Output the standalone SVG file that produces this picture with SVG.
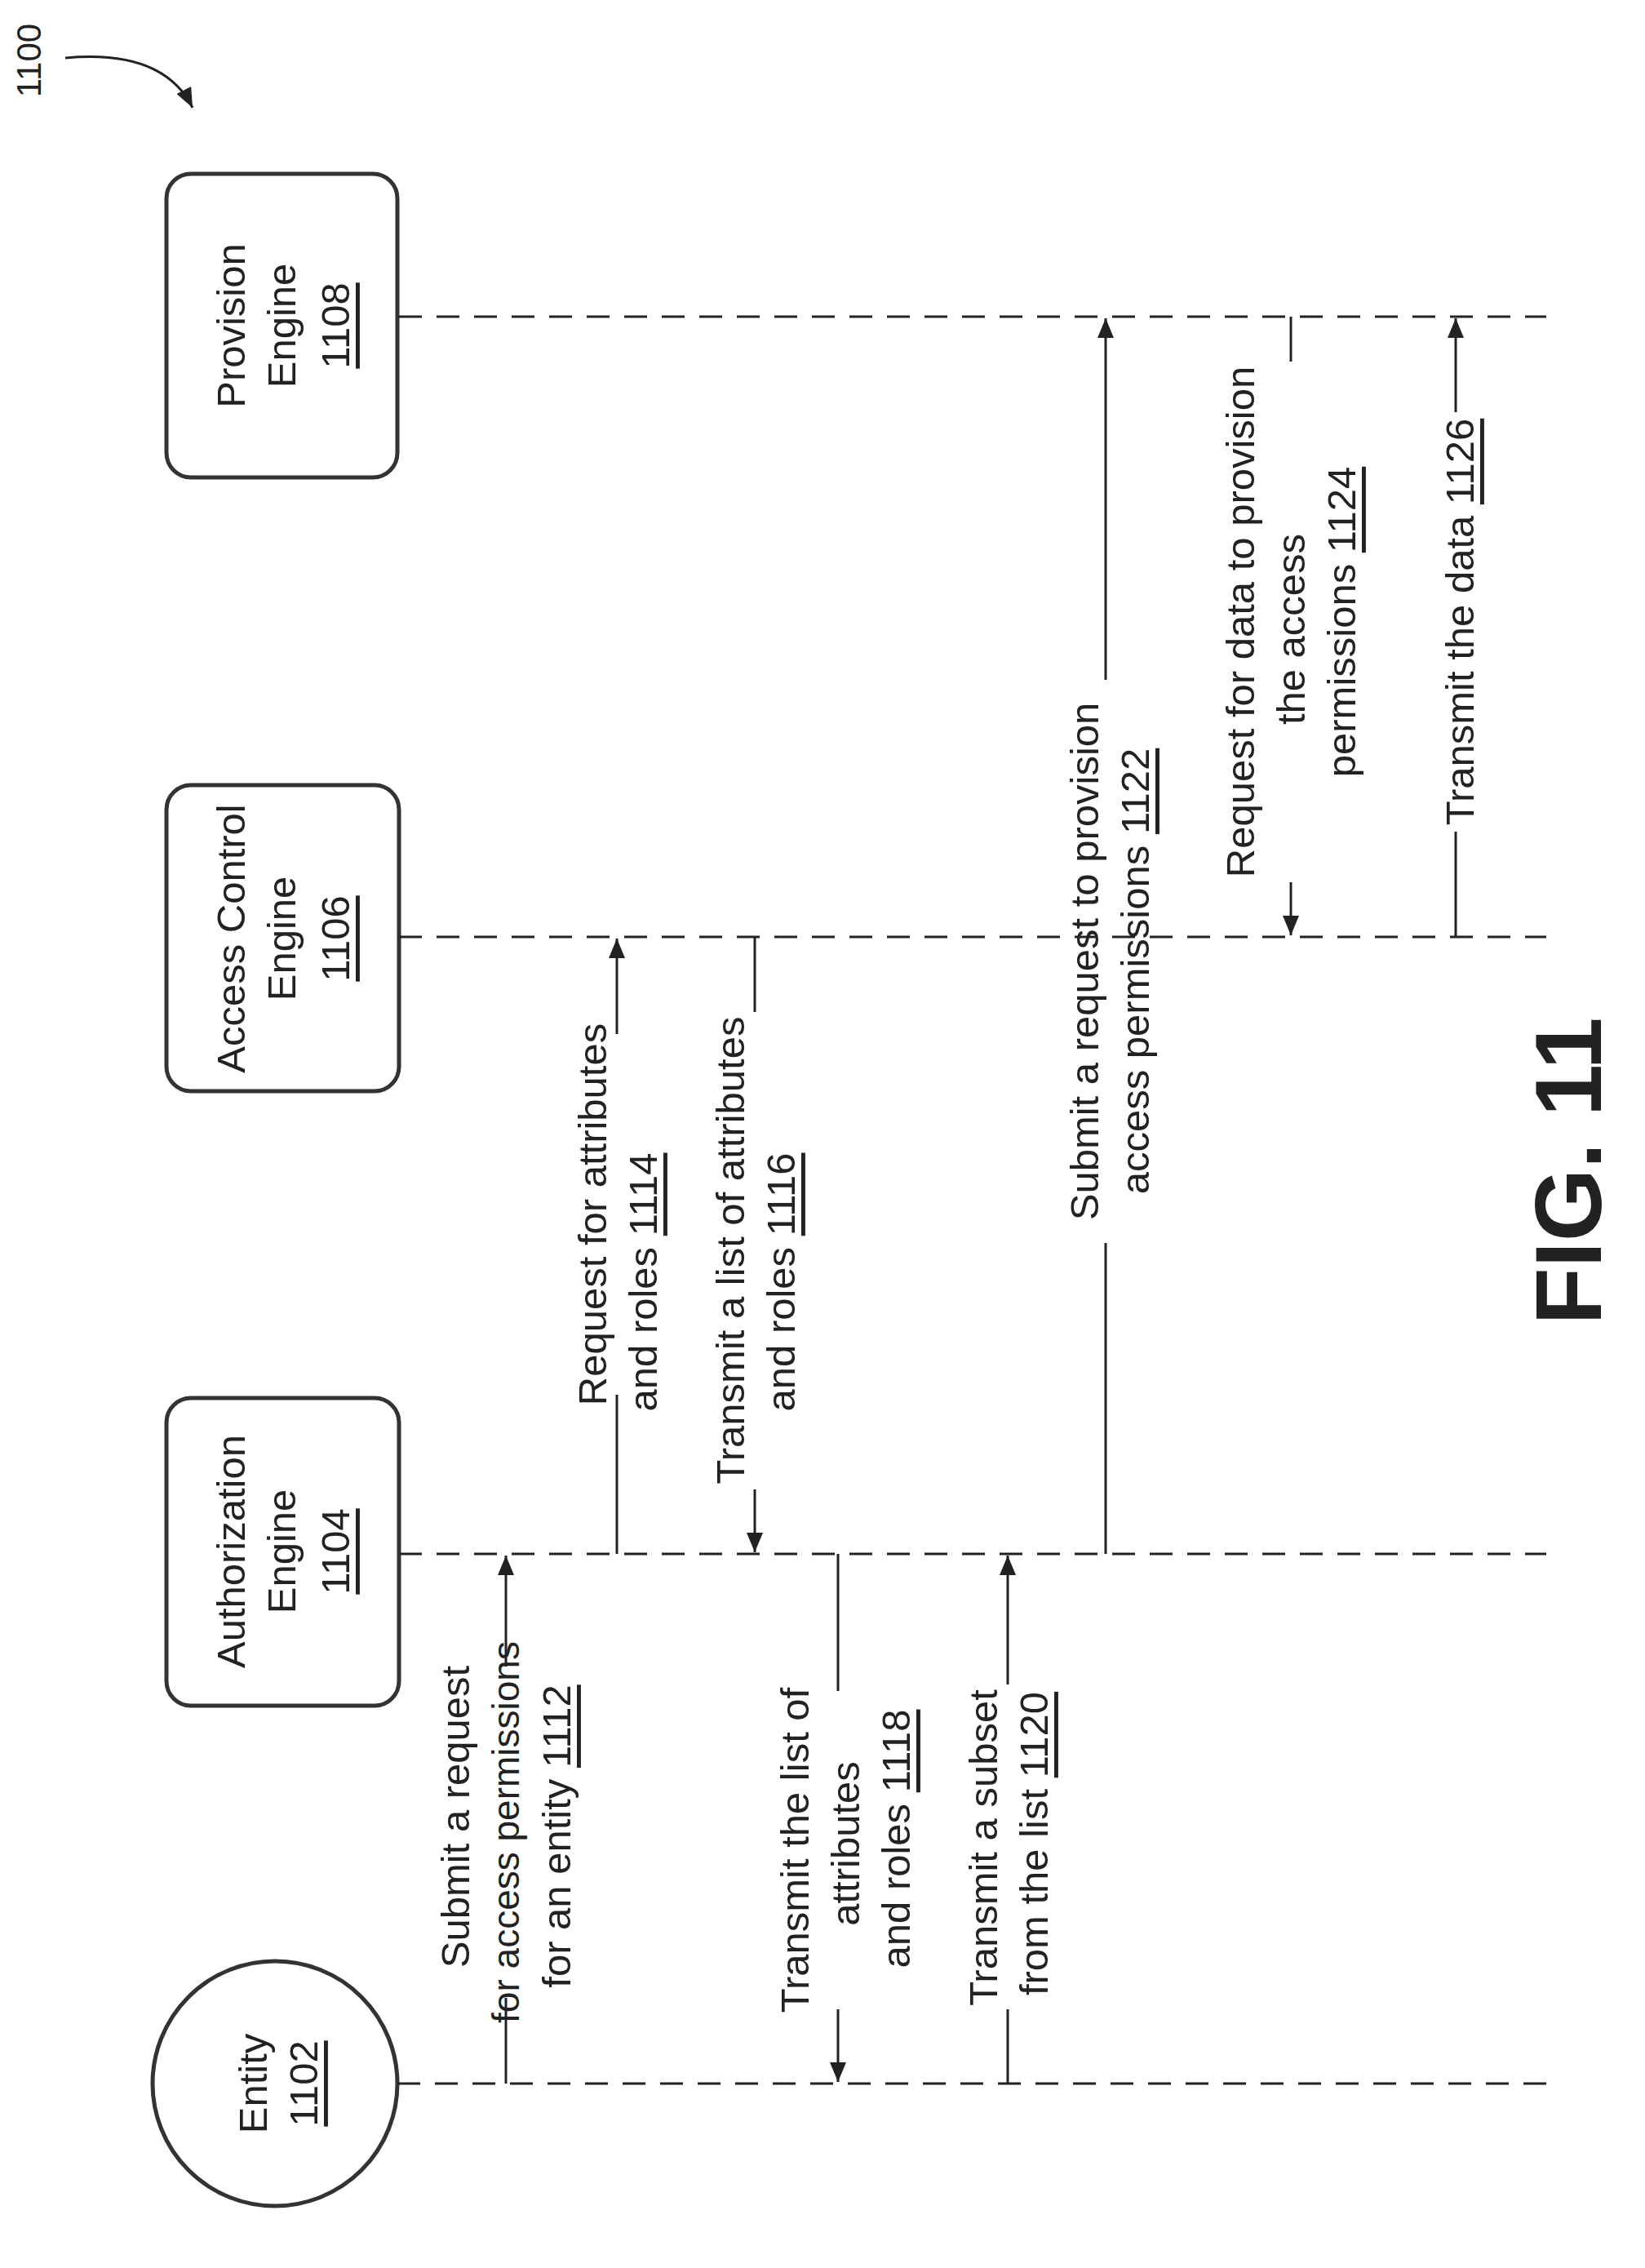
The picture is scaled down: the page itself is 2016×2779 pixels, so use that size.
<svg xmlns="http://www.w3.org/2000/svg" width="2016" height="2779" viewBox="0 0 2016 2779">
<style>
text{font-family:"Liberation Sans",Arial,sans-serif;font-size:49px;fill:#222;text-anchor:middle;dominant-baseline:central}
.u{text-decoration:underline}
.box{fill:#fff;stroke:#333;stroke-width:5}
.life{stroke:#222;stroke-width:3;stroke-dasharray:28 18;fill:none}
.msg{stroke:#222;stroke-width:3;fill:none}
</style>
<defs>
<marker id="a" viewBox="0 0 24 20" refX="24" refY="10" markerWidth="24" markerHeight="20" markerUnits="userSpaceOnUse" orient="auto"><path d="M0,0 L24,10 L0,20 z" fill="#222"/></marker>
</defs>
<g id="label1100">
<text x="35" y="74" transform="rotate(-90 35 74)" style="font-size:42px">1100</text>
<path d="M80,71 Q200,60 236,132" class="msg" marker-end="url(#a)"/>
</g>
<g id="n1108"><rect class="box" x="204" y="213" width="283" height="372" rx="30"/>
<text transform="translate(283,399) rotate(-90)">Provision</text>
<text transform="translate(345,399) rotate(-90)">Engine</text>
<text transform="translate(411,399) rotate(-90)" class="u">1108</text></g>
<g id="n1106"><rect class="box" x="204" y="962" width="285" height="375" rx="30"/>
<text transform="translate(283,1150) rotate(-90)">Access Control</text>
<text transform="translate(345,1150) rotate(-90)">Engine</text>
<text transform="translate(411,1150) rotate(-90)" class="u">1106</text></g>
<g id="n1104"><rect class="box" x="204" y="1713" width="285" height="377" rx="30"/>
<text transform="translate(283,1901) rotate(-90)">Authorization</text>
<text transform="translate(345,1901) rotate(-90)">Engine</text>
<text transform="translate(411,1901) rotate(-90)" class="u">1104</text></g>
<g id="n1102"><circle class="box" cx="337" cy="2553" r="150"/>
<text transform="translate(310,2553) rotate(-90)">Entity</text>
<text transform="translate(372,2553) rotate(-90)" class="u">1102</text></g>
<g id="connectors">
<path class="life" d="M489,388H1895M489,1148H1895M489,1904H1895M487,2553H1895"/>
<path class="msg" d="M620,2553V2448"/><path class="msg" d="M620,2042V1906" marker-end="url(#a)"/>
<path class="msg" d="M756,1904V1709"/><path class="msg" d="M756,1267V1150" marker-end="url(#a)"/>
<path class="msg" d="M925,1148V1240"/><path class="msg" d="M925,1825V1902" marker-end="url(#a)"/>
<path class="msg" d="M1027,1904V2072"/><path class="msg" d="M1027,2462V2551" marker-end="url(#a)"/>
<path class="msg" d="M1235,2553V2462"/><path class="msg" d="M1235,2064V1906" marker-end="url(#a)"/>
<path class="msg" d="M1355,1904V1523"/><path class="msg" d="M1355,833V390" marker-end="url(#a)"/>
<path class="msg" d="M1582,388V443"/><path class="msg" d="M1582,1081V1146" marker-end="url(#a)"/>
<path class="msg" d="M1784,1148V1019"/><path class="msg" d="M1784,505V390" marker-end="url(#a)"/>
</g>
<g id="labels">
<text transform="translate(558,2226) rotate(-90)">Submit a request</text>
<text transform="translate(620,2245) rotate(-90)" style="font-size:46px">for access permissions</text>
<text transform="translate(682,2250) rotate(-90)">for an entity <tspan class="u">1112</tspan></text>
<text transform="translate(726,1488) rotate(-90)">Request for attributes</text>
<text transform="translate(788,1571) rotate(-90)">and roles <tspan class="u">1114</tspan></text>
<text transform="translate(895,1532) rotate(-90)">Transmit a list of attributes</text>
<text transform="translate(957,1571) rotate(-90)">and roles <tspan class="u">1116</tspan></text>
<text transform="translate(974,2267) rotate(-90)">Transmit the list of</text>
<text transform="translate(1036,2259) rotate(-90)">attributes</text>
<text transform="translate(1098,2253) rotate(-90)">and roles <tspan class="u">1118</tspan></text>
<text transform="translate(1205,2264) rotate(-90)">Transmit a subset</text>
<text transform="translate(1267,2259) rotate(-90)">from the list <tspan class="u">1120</tspan></text>
<text transform="translate(1329,1178) rotate(-90)">Submit a request to provision</text>
<text transform="translate(1391,1190) rotate(-90)">access permissions <tspan class="u">1122</tspan></text>
<text transform="translate(1520,762) rotate(-90)">Request for data to provision</text>
<text transform="translate(1582,771) rotate(-90)">the access</text>
<text transform="translate(1644,762) rotate(-90)">permissions <tspan class="u">1124</tspan></text>
<text transform="translate(1789,762) rotate(-90)">Transmit the data <tspan class="u">1126</tspan></text>
<text transform="translate(1922,1435) rotate(-90)" style="font-size:115px;font-weight:bold">FIG. 11</text>
</g>
</svg>
